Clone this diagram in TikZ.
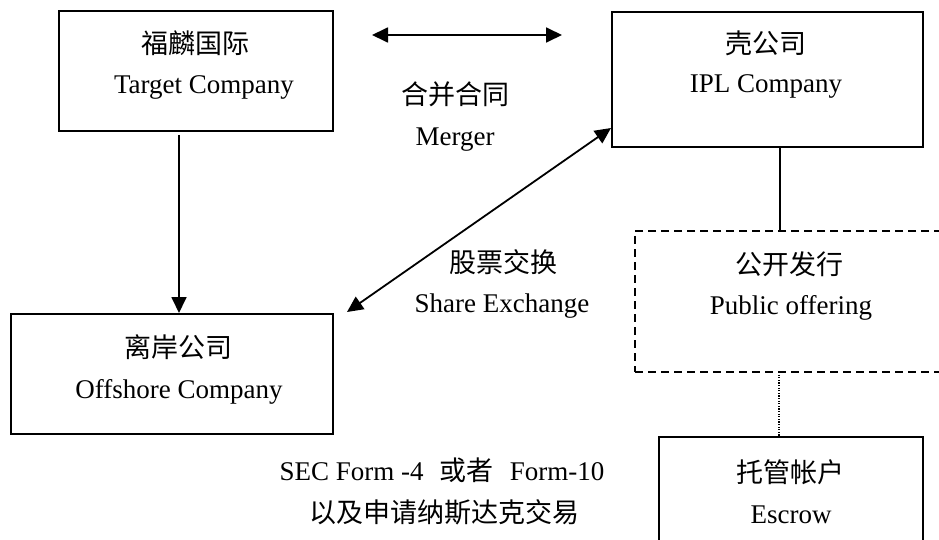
\documentclass[tikz,border=0pt]{standalone}
\usepackage{fontspec}
\setmainfont{Liberation Serif}
\newfontfamily\cjk{Noto Sans CJK SC}
\usetikzlibrary{arrows.meta}
\begin{document}
\begin{tikzpicture}[x=1pt,y=-1pt,
  box/.style={draw, line width=1.8pt, rectangle, inner sep=0pt, outer sep=0pt, anchor=north west},
  dbox/.style={box, dash pattern=on 8pt off 5pt},
  en/.style={font=\fontsize{27}{32}\selectfont, inner sep=0pt, anchor=base},
  zh/.style={font=\fontsize{27}{32}\selectfont\cjk, inner sep=0pt, anchor=base},
  link/.style={line width=1.8pt},
  tip/.style={-{Triangle[length=16pt,width=15pt]}},
  both/.style={{Triangle[length=16pt,width=15pt]}-{Triangle[length=16pt,width=15pt]}}
]
\useasboundingbox (0,0) rectangle (939,540);
\fill[white] (0,0) rectangle (939,540);

\begin{scope}
\clip (0,0) rectangle (939,540);
% company boxes
\node[box, minimum width=274pt, minimum height=120pt] (tgt) at (59,11) {};
\node[box, minimum width=311pt, minimum height=135pt] (ipl) at (612,12) {};
\node[box, minimum width=322pt, minimum height=120pt] (off) at (11,314) {};
\node[dbox, minimum width=330pt, minimum height=141pt] (pub) at (635,231) {};
\node[box, minimum width=264pt, minimum height=130pt] (esc) at (659,437) {};
\end{scope}

% box texts
\node[zh] (tgtzh) at (195,54) {福麟国际};
\node[en] (tgten) at (204,94) {Target Company};
\node[zh] (iplzh) at (766,54) {壳公司};
\node[en] (iplen) at (766,93) {IPL Company};
\node[zh] (offzh) at (178,357) {离岸公司};
\node[en] (offen) at (179,398) {Offshore Company};
\node[zh] (pubzh) at (789,274) {公开发行};
\node[en] (puben) at (791,314) {Public offering};
\node[zh] (esczh) at (790,482) {托管帐户};
\node[en] (escen) at (791,523) {Escrow};

% labels between boxes
\node[zh] (mrgzh) at (455,105) {合并合同};
\node[en] (mrgen) at (455,146) {Merger};
\node[zh] (shzh) at (503,272) {股票交换};
\node[en] (shen) at (502,312) {Share Exchange};
\node[en] (sec) at (442,480) {SEC Form -4\hspace{0.6em}{\cjk 或者}\hspace{0.6em}Form-10};
\node[zh] (nsd) at (444,522) {以及申请纳斯达克交易};

% connectors
\coordinate (mL) at (372,35);
\coordinate (mR) at (562,35);
\draw[link, both] (mL) -- (mR);

\coordinate (dA) at (611,128);
\coordinate (dB) at (347,312);
\draw[link, both] (dA) -- (dB);

\coordinate (vA) at (179,135);
\draw[link, tip] (vA) -- (179,313);

\draw[link] (ipl.south -| 780,0) -- (pub.north -| 780,0);
\draw[line width=1.3pt, dash pattern=on 1.2pt off 1.4pt] (pub.south -| 779,0) -- (esc.north -| 779,0);
\end{tikzpicture}
\end{document}
